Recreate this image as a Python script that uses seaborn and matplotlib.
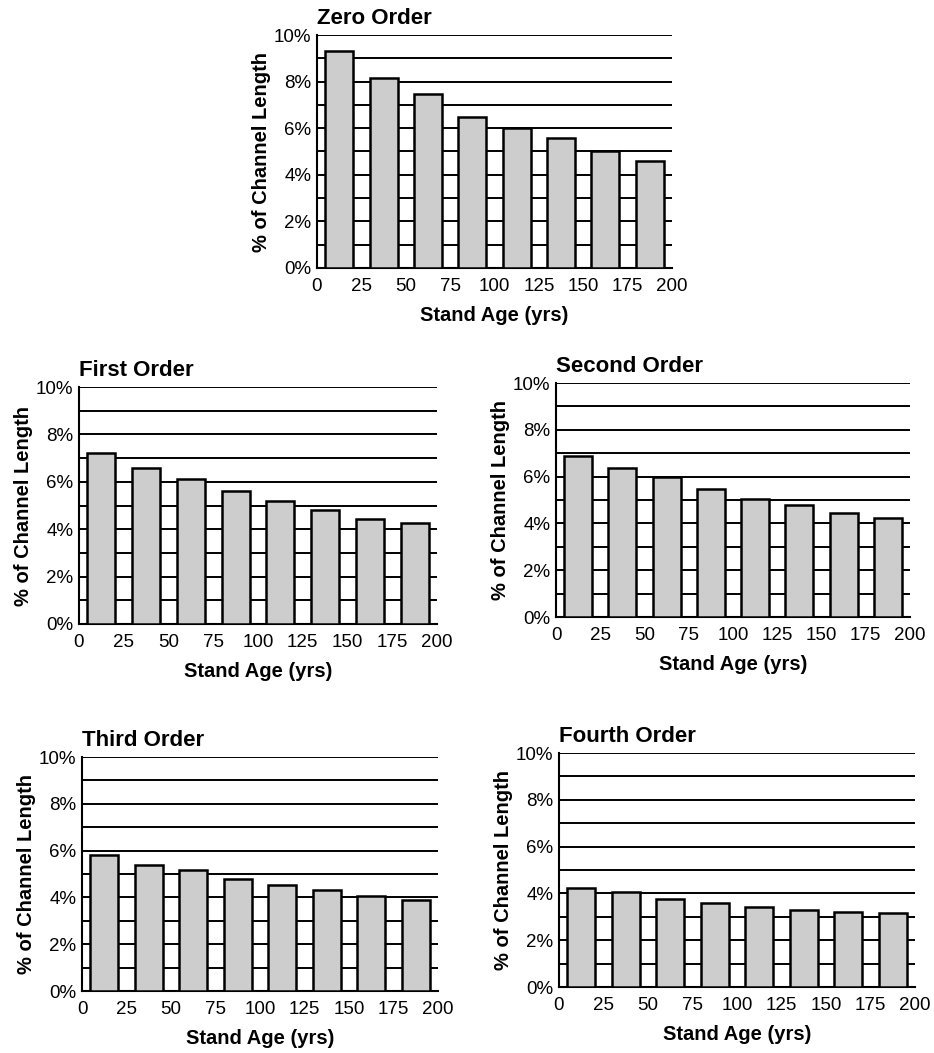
import numpy as np
import pandas as pd
import seaborn as sns
import matplotlib.pyplot as plt
from matplotlib.ticker import MultipleLocator, FuncFormatter

# stand age class midpoints (yrs)
ages = [12.5, 37.5, 62.5, 87.5, 112.5, 137.5, 162.5, 187.5]

# % of channel length per stream order
zero_order = [9.3, 8.15, 7.45, 6.5, 6.0, 5.6, 5.0, 4.6]
first_order = [7.2, 6.6, 6.1, 5.6, 5.2, 4.8, 4.45, 4.25]
second_order = [6.9, 6.35, 6.0, 5.45, 5.05, 4.8, 4.45, 4.25]
third_order = [5.8, 5.4, 5.15, 4.8, 4.55, 4.3, 4.05, 3.9]
fourth_order = [4.25, 4.05, 3.75, 3.6, 3.4, 3.3, 3.2, 3.15]

titles = ["Zero Order", "First Order", "Second Order", "Third Order", "Fourth Order"]
series = [zero_order, first_order, second_order, third_order, fourth_order]

sns.set_style("white")
plt.rcParams['font.family'] = ['Liberation Sans', 'DejaVu Sans']
plt.rcParams['text.color'] = 'black'
plt.rcParams['axes.labelcolor'] = 'black'

W, H = 934, 1053
fig = plt.figure(figsize=(W / 100, H / 100), dpi=100)

# axes boxes in pixels: left, top, right, bottom
boxes = [(317, 35, 672, 268),
         (79, 387, 437, 624),
         (556, 383, 910, 617),
         (82, 757, 438, 991),
         (559, 753, 915, 987)]

for title, vals, (l, t, r, b) in zip(titles, series, boxes):
    ax = fig.add_axes([l / W, 1 - b / H, (r - l) / W, (b - t) / H])
    df = pd.DataFrame({"age": ages, "pct": vals})
    sns.barplot(data=df, x="age", y="pct", native_scale=True, width=0.63,
                color="#cdcdcd", saturation=1, edgecolor="black",
                linewidth=1.8, ax=ax, zorder=3)
    ax.set_xlim(0, 200)
    ax.set_ylim(0, 10)
    ax.xaxis.set_major_locator(MultipleLocator(25))
    ax.yaxis.set_major_locator(MultipleLocator(2))
    ax.yaxis.set_minor_locator(MultipleLocator(1))
    ax.yaxis.set_major_formatter(FuncFormatter(lambda v, p: f"{v:.0f}%"))
    ax.grid(True, which="both", axis="y", color="black", linewidth=1.4, zorder=0)
    ax.set_axisbelow(True)
    for s in ["top", "right"]:
        ax.spines[s].set_visible(False)
    for s in ["left", "bottom"]:
        ax.spines[s].set_color("black")
        ax.spines[s].set_linewidth(1.5)
    ax.tick_params(axis="both", which="both", direction="inout", length=6,
                   width=1.3, colors="black", labelsize=13.5, pad=1)
    ax.tick_params(axis="x", pad=4)
    ax.tick_params(axis="y", which="minor", length=4)
    ax.set_xlabel("Stand Age (yrs)", fontsize=14.5, fontweight="bold", labelpad=8)
    ax.set_ylabel("% of Channel Length", fontsize=14.5, fontweight="bold", labelpad=2)
    ax.set_title(title, loc="left", fontsize=16, fontweight="bold", pad=8)

fig.savefig("out.png", dpi=100, facecolor="white")
